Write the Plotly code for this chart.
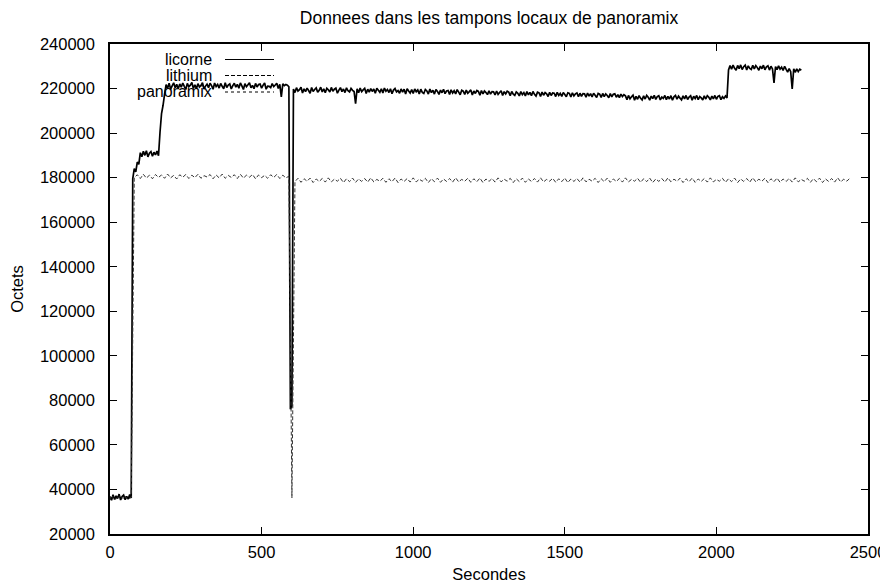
import plotly.graph_objects as go

# ---------------- data (values in thousands of octets) ----------------
# licorne: one sample every 5 s, from 0 to 2280 s
licorne_t = list(range(0, 2285, 5))
licorne_k = [
    # 0 .. 70
    36.4, 35.2, 37.6, 35.5, 37.1, 35.9, 37.9, 35.3, 36.8, 37.5, 35.4, 36.9, 35.7, 37.7, 36.2,
    # 75
    179.5,
    # 80 .. 95
    184.0, 182.6, 187.0, 186.0,
    # 100 .. 160
    191.2, 189.4, 191.8, 190.0, 192.1, 189.3, 191.0, 191.7, 189.6, 191.4, 190.2, 191.9, 189.8,
    # 165 .. 180
    200.5, 208.8, 212.5, 217.5,
    # 185 .. 590
    221.8, 220.1, 222.4, 219.7, 221.2, 222.6, 220.3, 221.9, 219.8, 222.1,
    220.6, 222.5, 221.0, 219.6, 222.3, 220.8, 221.5, 222.7, 220.0, 221.7,
    219.9, 222.2, 220.7, 221.4, 222.6, 219.8, 221.1, 222.0, 220.4, 222.4,
    221.3, 219.7, 222.5, 220.9, 221.8, 220.2, 222.3, 221.0, 219.9, 222.6,
    220.5, 221.6, 222.1, 219.8, 221.3, 222.4, 220.6, 221.9, 220.1, 222.5,
    221.2, 219.6, 222.2, 220.8, 221.7, 222.6, 220.3, 221.4, 219.9, 222.3,
    220.7, 221.8, 222.0, 220.2, 221.5, 222.5, 219.7, 221.1, 221.0, 220.4,
    222.2, 220.9, 221.6, 222.4, 220.0, 221.9, 216.3, 222.1, 221.3, 221.8,
    221.5, 220.8,
    # 595 .. 600
    76.0, 77.5,
    # 605 .. 805
    219.8, 218.2, 220.4, 218.9, 219.5, 220.6, 218.0, 219.9, 218.6, 220.2,
    219.1, 217.9, 220.5, 218.7, 219.6, 220.3, 218.3, 219.2, 220.6, 218.5,
    219.9, 218.1, 220.1, 219.4, 218.4, 220.5, 218.8, 219.7, 220.2, 217.9,
    219.3, 220.4, 218.6, 219.8, 218.2, 220.3, 219.0, 218.5, 220.1, 219.2,
    218.7,
    # 810
    213.2,
    # 815 .. 1695
    219.9, 218.1, 220.2, 218.6, 219.4, 220.1, 217.8, 219.7, 218.4, 220.0,
    218.7, 219.8, 217.9, 220.1, 219.2, 218.3, 219.9, 218.0, 220.2, 218.8,
    219.6, 218.2, 219.9, 217.7, 219.3, 220.0, 218.5, 219.1, 217.9, 219.8,
    218.4, 219.7, 217.6, 219.9, 218.9, 218.0, 219.5, 217.8, 219.8, 218.6,
    219.4, 217.6, 219.7, 218.3, 217.8, 219.6, 218.9, 217.5, 219.8, 218.2,
    219.2, 217.5, 219.6, 218.7, 217.4, 219.3, 218.1, 219.7, 217.7, 218.9,
    219.1, 217.3, 219.4, 218.0, 219.0, 217.6, 219.5, 218.4, 217.2, 219.2,
    218.8, 217.4, 219.3, 217.9, 218.6, 219.4, 217.1, 218.9, 217.8, 219.1,
    218.7, 217.0, 219.1, 217.6, 218.9, 218.2, 217.3, 219.0, 217.5, 218.6,
    218.5, 217.1, 218.9, 217.4, 218.2, 219.0, 216.9, 218.6, 217.6, 218.8,
    218.4, 216.8, 218.7, 217.5, 216.9, 218.5, 217.9, 216.7, 218.6, 217.3,
    218.2, 216.7, 218.6, 217.2, 218.3, 216.8, 218.7, 217.4, 216.6, 218.4,
    218.1, 216.5, 218.4, 217.0, 218.2, 217.6, 216.4, 218.3, 216.9, 218.0,
    217.9, 216.4, 218.3, 216.9, 217.8, 216.5, 218.2, 217.3, 216.3, 218.1,
    217.8, 216.2, 218.1, 216.7, 217.6, 218.0, 216.3, 217.9, 216.5, 217.7,
    217.6, 216.1, 218.0, 216.6, 217.7, 216.2, 217.9, 217.0, 216.0, 217.8,
    217.5, 216.0, 217.8, 216.4, 217.6, 216.9, 215.9, 217.7, 216.3, 217.4,
    217.6, 216.1, 217.3, 215.9, 217.5, 216.4, 217.2,
    # 1700 .. 2035
    216.7, 215.0, 216.9, 215.4, 216.3, 217.0, 214.8, 216.5, 215.2, 216.8,
    215.6, 214.9, 216.7, 215.3, 216.9, 216.1, 214.8, 216.6, 215.5, 217.0,
    215.1, 216.4, 216.8, 214.9, 216.2, 215.6, 216.9, 215.0, 216.5, 215.3,
    216.8, 214.8, 216.3, 216.9, 215.2, 216.6, 215.7, 214.9, 216.7, 215.4,
    216.9, 215.1, 216.2, 216.8, 214.8, 216.5, 215.5, 216.9, 215.0, 216.4,
    215.8, 214.9, 216.7, 215.3, 216.8, 216.1, 214.9, 216.6, 215.4, 216.9,
    215.2, 216.5, 216.8, 215.0, 216.3, 215.6, 216.7, 215.8,
    # 2040 .. 2280
    228.4, 230.3, 228.7, 230.5, 229.1, 228.2, 230.4, 228.9, 230.6, 228.5,
    229.8, 230.5, 228.3, 230.2, 229.0, 228.6, 230.4, 228.8, 230.3, 229.4,
    228.2, 230.1, 228.9, 230.5, 228.4, 229.7, 230.2, 228.3, 230.0, 228.8,
    222.5, 229.9, 228.5, 230.2, 228.7, 229.6, 228.1, 230.0, 228.6, 227.4,
    229.0, 227.6, 219.8, 228.9, 227.3, 228.8, 227.6, 228.7, 228.2,
]

# lithium: one sample every 10 s, from 0 to 2440 s
lithium_t = list(range(0, 2450, 10))
lithium_k = [
    36.0, 36.8, 35.6, 37.0, 35.9, 36.6, 35.7, 36.4,
    180.0, 181.3, 179.6, 181.5, 179.8, 181.1, 179.5, 181.4, 180.1, 181.2,
    179.7, 181.6, 179.9, 181.0, 179.4, 181.3, 180.2, 181.4, 179.6, 181.1,
    180.0, 181.5, 179.7, 180.9, 180.3, 181.4, 179.5, 181.2, 179.9, 181.6,
    179.7, 181.0, 180.1, 181.3, 179.6, 181.5, 179.8, 181.1, 180.2, 181.4,
    179.5, 181.2, 180.0, 181.0, 179.7, 181.3, 180.1, 181.4, 179.6, 181.1,
    179.9, 180.6,
    36.2,
    178.2, 179.7, 177.9, 179.5, 178.4, 179.8, 177.8, 179.4,
    178.3, 179.6, 178.0, 179.9, 178.1, 179.3, 178.4, 179.7,
    177.8, 179.5, 178.2, 179.8, 177.9, 179.4, 178.3, 179.6,
    178.0, 179.9, 178.1, 179.2, 178.4, 179.7, 177.9, 179.5,
    178.2, 179.8, 177.8, 179.4, 178.3, 179.6, 178.0, 179.9,
    178.1, 179.3, 178.4, 179.7, 177.8, 179.5, 178.2, 179.8,
    177.9, 179.4, 178.3, 179.6, 178.0, 179.9, 178.1, 179.2,
    178.4, 179.7, 177.9, 179.5, 178.2, 179.8, 177.8, 179.4,
    178.3, 179.6, 178.0, 179.9, 178.1, 179.3, 178.4, 179.7,
    177.8, 179.5, 178.2, 179.8, 177.9, 179.4, 178.3, 179.6,
    178.0, 179.9, 178.1, 179.2, 178.4, 179.7, 177.9, 179.5,
    178.2, 179.8, 177.8, 179.4, 178.3, 179.6, 178.0, 179.9,
    178.1, 179.3, 178.4, 179.7, 177.8, 179.5, 178.2, 179.8,
    177.9, 179.4, 178.3, 179.6, 178.0, 179.9, 178.1, 179.2,
    178.4, 179.7, 177.9, 179.5, 178.2, 179.8, 177.8, 179.4,
    178.3, 179.6, 178.0, 179.9, 178.1, 179.3, 178.4, 179.7,
    177.8, 179.5, 178.2, 179.8, 177.9, 179.4, 178.3, 179.6,
    178.0, 179.9, 178.1, 179.2, 178.4, 179.7, 177.9, 179.5,
    178.2, 179.8, 177.8, 179.4, 178.3, 179.6, 178.0, 179.9,
    178.1, 179.3, 178.4, 179.7, 177.8, 179.5, 178.2, 179.8,
    177.9, 179.4, 178.3, 179.6, 178.0, 179.9, 178.1, 179.2,
    178.4, 179.7, 177.9, 179.5, 178.2, 179.8, 177.8, 179.4,
    178.3, 179.6, 178.0, 179.9, 178.1, 179.3, 178.4, 179.7,
]

panoramix_t = [0, 10, 20, 30, 40, 50, 60, 70]
panoramix_k = [36.9, 35.6, 36.3, 37.2, 35.4, 36.8, 35.8, 37.0]

series_names = ["licorne", "lithium", "panoramix"]
x_ticks = [0, 500, 1000, 1500, 2000, 2500]
y_ticks = [20000, 40000, 60000, 80000, 100000, 120000, 140000, 160000,
           180000, 200000, 220000, 240000]
x_tick_labels = [str(v) for v in x_ticks]
y_tick_labels = [str(v) for v in y_ticks]

FONT = "Liberation Sans, Arial, Helvetica, sans-serif"

fig = go.Figure()
fig.add_trace(go.Scatter(x=licorne_t, y=[v * 1000 for v in licorne_k],
                         mode="lines", name=series_names[0],
                         line=dict(color="black", width=1.7, simplify=False)))
fig.add_trace(go.Scatter(x=lithium_t, y=[v * 1000 for v in lithium_k],
                         mode="lines", name=series_names[1],
                         line=dict(color="#333333", width=1, dash="4px,2px",
                                   simplify=False)))
fig.add_trace(go.Scatter(x=panoramix_t, y=[v * 1000 for v in panoramix_k],
                         mode="lines", name=series_names[2],
                         line=dict(color="black", width=1, dash="dot", simplify=False)))

# page body has an 8px margin: figure drawn at (8, 8) in the 888x586 window
OFF = 8
W, H = 888 - OFF, 586 - OFF
L, T = 110 - OFF, 44 - OFF
PW, PH = 758, 490
R, B = W - L - PW, H - T - PH

key_rows = [59.5, 75.5, 92.0]          # window pixel rows of key entries
key_dash = ["solid", "4px,2px", "dot"]
for name, yp, dash in zip(series_names, key_rows, key_dash):
    yy = (534 - yp) / PH
    fig.add_annotation(x=(214 - 110) / PW, y=yy, xref="paper", yref="paper",
                       text=name, showarrow=False, xanchor="right",
                       yanchor="middle", font=dict(size=16, color="black", family=FONT))
    fig.add_shape(type="line", xref="paper", yref="paper",
                  x0=(225 - 110) / PW, x1=(274 - 110) / PW, y0=yy, y1=yy,
                  line=dict(color="black", width=1, dash=dash))

axis_common = dict(showline=True, linecolor="black", linewidth=1.5, mirror="ticks",
                   ticks="inside", ticklen=7, tickcolor="black", tickwidth=1,
                   showgrid=False, zeroline=False, automargin=False,
                   tickfont=dict(size=16.5, color="black", family=FONT))

fig.update_layout(
    width=W, height=H,
    margin=dict(l=L, r=R, t=T, b=B),
    paper_bgcolor="white", plot_bgcolor="white",
    showlegend=False,
    title=dict(text="Donnees dans les tampons locaux de panoramix",
               x=(L + PW / 2) / W, xanchor="center", y=1 - (18 - OFF) / H, yanchor="middle",
               font=dict(size=17.5, color="black", family=FONT)),
    xaxis=dict(range=[0, 2500], tickvals=x_ticks, ticktext=x_tick_labels,
               ticklabelstandoff=2,
               title=dict(text="Secondes", standoff=9,
                          font=dict(size=16.5, color="black", family=FONT)),
               **axis_common),
    yaxis=dict(range=[20000, 240000], tickvals=y_ticks, ticktext=y_tick_labels,
               ticklabelstandoff=10,
               title=dict(text="Octets", standoff=14,
                          font=dict(size=16.5, color="black", family=FONT)),
               **axis_common),
)

fig.write_html("out.html")
